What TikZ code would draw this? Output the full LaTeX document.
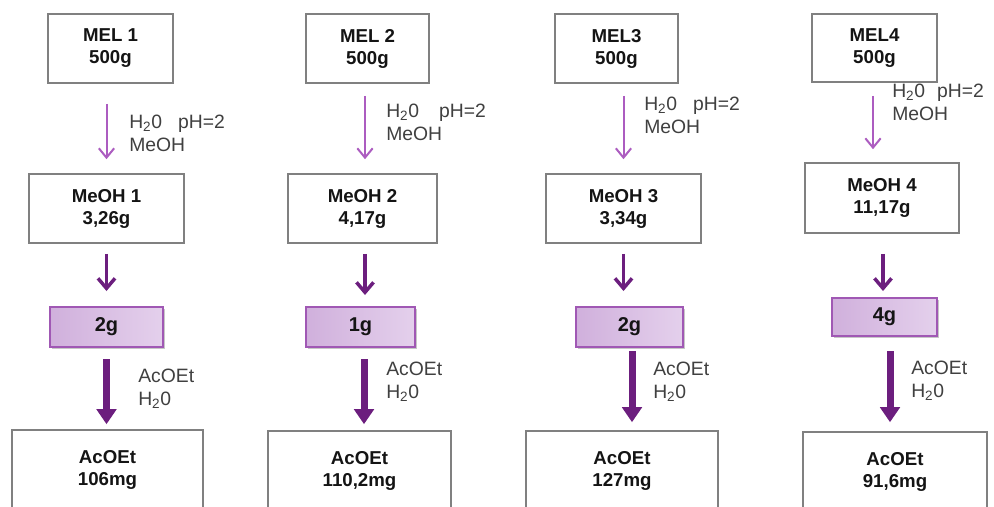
\documentclass[tikz,border=0pt]{standalone}
\usepackage{fontspec}
\setmainfont{Liberation Sans}
\usetikzlibrary{arrows.meta,shadows}
\definecolor{boxgray}{RGB}{128,128,128}
\definecolor{thinpurple}{RGB}{172,92,192}
\definecolor{darkpurple}{RGB}{108,30,126}
\definecolor{lightpur}{RGB}{228,208,236}
\definecolor{midpur}{RGB}{208,176,220}
\definecolor{purborder}{RGB}{160,88,180}
\definecolor{labelgray}{RGB}{64,64,64}
\definecolor{textblack}{RGB}{20,20,20}
\begin{document}
\begin{tikzpicture}[x=0.75pt,y=-0.75pt,
  whitebox/.style={draw=boxgray, line width=1.2pt, fill=white, align=center,
    font=\fontsize{14}{16.5}\selectfont\bfseries, text=textblack, inner sep=0pt},
  purbox/.style={draw=purborder, line width=1.5pt, left color=midpur, right color=lightpur,
    align=center, font=\fontsize{15}{17}\selectfont\bfseries, text=textblack, inner sep=0pt,
    drop shadow={shadow xshift=1.2pt, shadow yshift=-1.2pt, fill=black, opacity=0.22}},
  steplabel/.style={anchor=west, align=left, font=\fontsize{14.5}{17.25}\selectfont,
    text=labelgray, inner sep=0pt},
  thinarr/.style={draw=thinpurple, line width=1.5pt,
    -{Straight Barb[length=7pt, width=11.5pt]}},
  midarr/.style={draw=darkpurple, line width=2.6pt,
    -{Straight Barb[length=7.5pt, width=12.75pt]}},
  thickarr/.style={draw=darkpurple, line width=5.25pt,
    -{Triangle[length=11.25pt, width=14.5pt]}}
]
\useasboundingbox (0,0) rectangle (994,506);
\clip (0,0) rectangle (994,506);
\fill[white] (0,0) rectangle (994,506);

% Column 1
\node[whitebox, minimum width=93.75pt, minimum height=51.75pt] (mel1) at (110.5,48.5) {MEL 1\\500g};
\node[whitebox, minimum width=116.25pt, minimum height=51.75pt] (meoh1) at (106.5,208.5) {MeOH 1\\3,26g};
\node[purbox, minimum width=84.75pt, minimum height=30pt] (g1) at (106.5,327) {2g};
\node[whitebox, minimum width=143.25pt, minimum height=60pt] (ac1) at (107.5,470) {AcOEt\\106mg};
\node[steplabel] (la1) at (129,133.5) {H\textsubscript{2}0\hspace{12pt}pH=2\\MeOH};
\node[steplabel] (lb1) at (138,389) {AcOEt\\H\textsubscript{2}0};
\draw[thinarr, shorten <=15pt, shorten >=10.5pt] (meoh1.north |- mel1.south) -- (meoh1.north);
\draw[midarr, shorten <=7.5pt, shorten >=11.25pt] (meoh1.south) -- (meoh1.south |- g1.north);
\draw[thickarr, shorten <=8.25pt, shorten >=3.75pt] (g1.south) -- (g1.south |- ac1.north);

% Column 2
\node[whitebox, minimum width=92.25pt, minimum height=51.75pt] (mel2) at (367.5,48.5) {MEL 2\\500g};
\node[whitebox, minimum width=111.75pt, minimum height=51.75pt] (meoh2) at (362.5,208.5) {MeOH 2\\4,17g};
\node[purbox, minimum width=81.75pt, minimum height=30pt] (g2) at (360.5,327) {1g};
\node[whitebox, minimum width=137.25pt, minimum height=60pt] (ac2) at (359.5,471) {AcOEt\\110,2mg};
\node[steplabel] (la2) at (386,122.5) {H\textsubscript{2}0\hspace{15pt}pH=2\\MeOH};
\node[steplabel] (lb2) at (386,381.5) {AcOEt\\H\textsubscript{2}0};
\draw[thinarr, shorten <=9pt, shorten >=10.5pt] ([xshift=1.875pt]meoh2.north |- mel2.south) -- ([xshift=1.875pt]meoh2.north);
\draw[midarr, shorten <=7.5pt, shorten >=8.25pt] ([xshift=1.875pt]meoh2.south) -- ([xshift=1.875pt]meoh2.south |- g2.north);
\draw[thickarr, shorten <=8.25pt, shorten >=4.5pt] ([xshift=2.625pt]g2.south) -- ([xshift=2.625pt]g2.south |- ac2.north);

% Column 3
\node[whitebox, minimum width=92.25pt, minimum height=51.75pt] (mel3) at (616.5,48.5) {MEL3\\500g};
\node[whitebox, minimum width=116.25pt, minimum height=51.75pt] (meoh3) at (623.5,208.5) {MeOH 3\\3,34g};
\node[purbox, minimum width=80.25pt, minimum height=30pt] (g3) at (629.5,327) {2g};
\node[whitebox, minimum width=144pt, minimum height=60pt] (ac3) at (622,471) {AcOEt\\127mg};
\node[steplabel] (la3) at (644,115.5) {H\textsubscript{2}0\hspace{12pt}pH=2\\MeOH};
\node[steplabel] (lb3) at (653,381.5) {AcOEt\\H\textsubscript{2}0};
\draw[thinarr, shorten <=9pt, shorten >=10.5pt] (meoh3.north |- mel3.south) -- (meoh3.north);
\draw[midarr, shorten <=7.5pt, shorten >=11.25pt] (meoh3.south) -- (meoh3.south |- g3.north);
\draw[thickarr, shorten <=2.25pt, shorten >=6pt] ([xshift=1.875pt]g3.south) -- ([xshift=1.875pt]g3.south |- ac3.north);

% Column 4
\node[whitebox, minimum width=93.75pt, minimum height=51pt] (mel4) at (874.5,48) {MEL4\\500g};
\node[whitebox, minimum width=115.5pt, minimum height=52.5pt] (meoh4) at (882,198) {MeOH 4\\11,17g};
\node[purbox, minimum width=78.75pt, minimum height=28.5pt] (g4) at (884.5,317) {4g};
\node[whitebox, minimum width=138pt, minimum height=60pt] (ac4) at (895,472) {AcOEt\\91,6mg};
\node[steplabel] (la4) at (892,102) {H\textsubscript{2}0\hspace{9pt}pH=2\\MeOH};
\node[steplabel] (lb4) at (911,381) {AcOEt\\H\textsubscript{2}0};
\draw[thinarr, shorten <=9.75pt, shorten >=9.75pt] ([xshift=-1.125pt]mel4.south) -- ([xshift=-1.125pt]mel4.south |- meoh4.north);
\draw[midarr, shorten <=15pt, shorten >=4.5pt] ([xshift=0.75pt]meoh4.south) -- ([xshift=0.75pt]meoh4.south |- g4.north);
\draw[thickarr, shorten <=10.5pt, shorten >=6.75pt] ([xshift=4.125pt]g4.south) -- ([xshift=4.125pt]g4.south |- ac4.north);
\end{tikzpicture}
\end{document}
